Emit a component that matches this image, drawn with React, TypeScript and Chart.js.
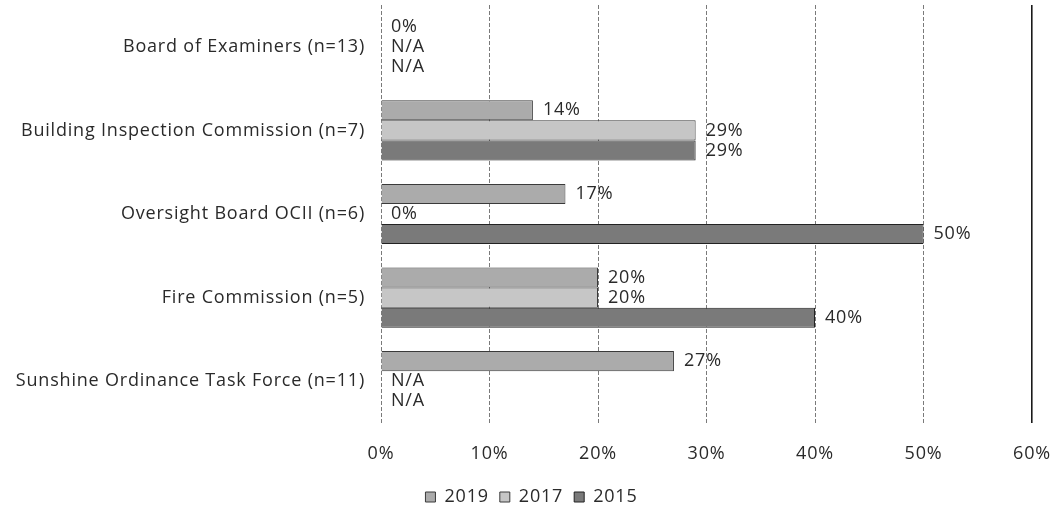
import React, { useEffect, useRef } from "react";
import { Chart, registerables } from "chart.js";

Chart.register(...registerables);

const categories = [
  "Board of Examiners (n=13)",
  "Building Inspection Commission (n=7)",
  "Oversight Board OCII (n=6)",
  "Fire Commission (n=5)",
  "Sunshine Ordinance Task Force (n=11)",
];
const seriesNames = ["2019", "2017", "2015"];
const values2019: (number | null)[] = [0, 14, 17, 20, 27];
const values2017: (number | null)[] = [null, 29, 0, 20, null];
const values2015: (number | null)[] = [null, 29, 50, 40, null];
const xTicks = [0, 10, 20, 30, 40, 50, 60];

const FONT = "'Open Sans', sans-serif";
const FS = 18;
const SPACING = "0.8px";

const spacingPlugin = {
  id: "letterSpacing",
  beforeUpdate(chart: any) {
    chart.ctx.letterSpacing = SPACING;
  },
  beforeDraw(chart: any) {
    chart.ctx.letterSpacing = SPACING;
  },
};

const labelPlugin = {
  id: "valueLabels",
  afterDatasetsDraw(chart: any) {
    const ctx = chart.ctx;
    const xScale = chart.scales.x;
    ctx.save();
    ctx.letterSpacing = SPACING;
    ctx.font = `${FS}px ${FONT}`;
    ctx.fillStyle = "#2a2a2a";
    ctx.textBaseline = "middle";
    ctx.textAlign = "left";
    chart.data.datasets.forEach((ds: any, di: number) => {
      const meta = chart.getDatasetMeta(di);
      meta.data.forEach((el: any, i: number) => {
        const v = ds.data[i];
        const txt = v === null || v === undefined ? "N/A" : `${v}%`;
        const x = xScale.getPixelForValue(v ?? 0) + 10;
        ctx.fillText(txt, x, el.y);
      });
    });
    ctx.restore();
  },
};

export default function App() {
  const ref = useRef<HTMLCanvasElement>(null);
  useEffect(() => {
    if (!ref.current) return;
    const chart = new Chart(ref.current, {
      type: "bar",
      data: {
        labels: categories,
        datasets: [
          {
            label: seriesNames[0],
            data: values2019,
            backgroundColor: "#ababab",
            borderColor: "#3a3a3a",
            borderWidth: 1,
          },
          {
            label: seriesNames[1],
            data: values2017,
            backgroundColor: "#c6c6c6",
            borderColor: "#3a3a3a",
            borderWidth: 1,
          },
          {
            label: seriesNames[2],
            data: values2015,
            backgroundColor: "#7a7a7a",
            borderColor: "#222222",
            borderWidth: 1,
          },
        ],
      },
      plugins: [spacingPlugin, labelPlugin],
      options: {
        indexAxis: "y",
        animation: false,
        responsive: true,
        maintainAspectRatio: false,
        datasets: {
          bar: { categoryPercentage: 0.72, barPercentage: 1.0 },
        },
        layout: { padding: { top: 0, right: 0, bottom: -6, left: 0 } },
        scales: {
          x: {
            min: 0,
            max: 60,
            afterBuildTicks: (scale: any) => {
              scale.ticks = xTicks.map((v) => ({ value: v }));
            },
            afterFit: (scale: any) => {
              scale.height = 54;
              scale.paddingRight = 23;
              scale.paddingLeft = 0;
            },
            ticks: {
              callback: (v: any) => `${v}%`,
              font: { family: FONT, size: FS },
              color: "#2a2a2a",
              padding: 20,
            },
            grid: {
              color: (c: any) => (c.index === 6 ? "#1a1a1a" : "#7a7a7a"),
              lineWidth: (c: any) => (c.index === 6 ? 1.6 : 1),
              drawTicks: false,
            },
            border: {
              display: false,
              dash: (c: any) => (c.index === 6 ? [] : [4, 2]),
            },
          },
          y: {
            afterFit: (scale: any) => {
              scale.width = 373;
              scale.paddingTop = 0;
              scale.paddingBottom = 0;
            },
            ticks: {
              font: { family: FONT, size: FS },
              color: "#2a2a2a",
              padding: 16,
            },
            grid: { display: false, drawTicks: false },
            border: { display: false },
          },
        },
        plugins: {
          legend: {
            position: "bottom",
            labels: {
              boxWidth: 10,
              boxHeight: 10,
              font: { family: FONT, size: FS },
              color: "#2a2a2a",
              padding: 11,
            },
          },
          tooltip: { enabled: false },
        },
      },
    });
    return () => chart.destroy();
  }, []);
  return (
    <div style={{ position: "absolute", left: 8, top: 5, width: 1047, height: 505 }}>
      <canvas ref={ref} />
    </div>
  );
}
